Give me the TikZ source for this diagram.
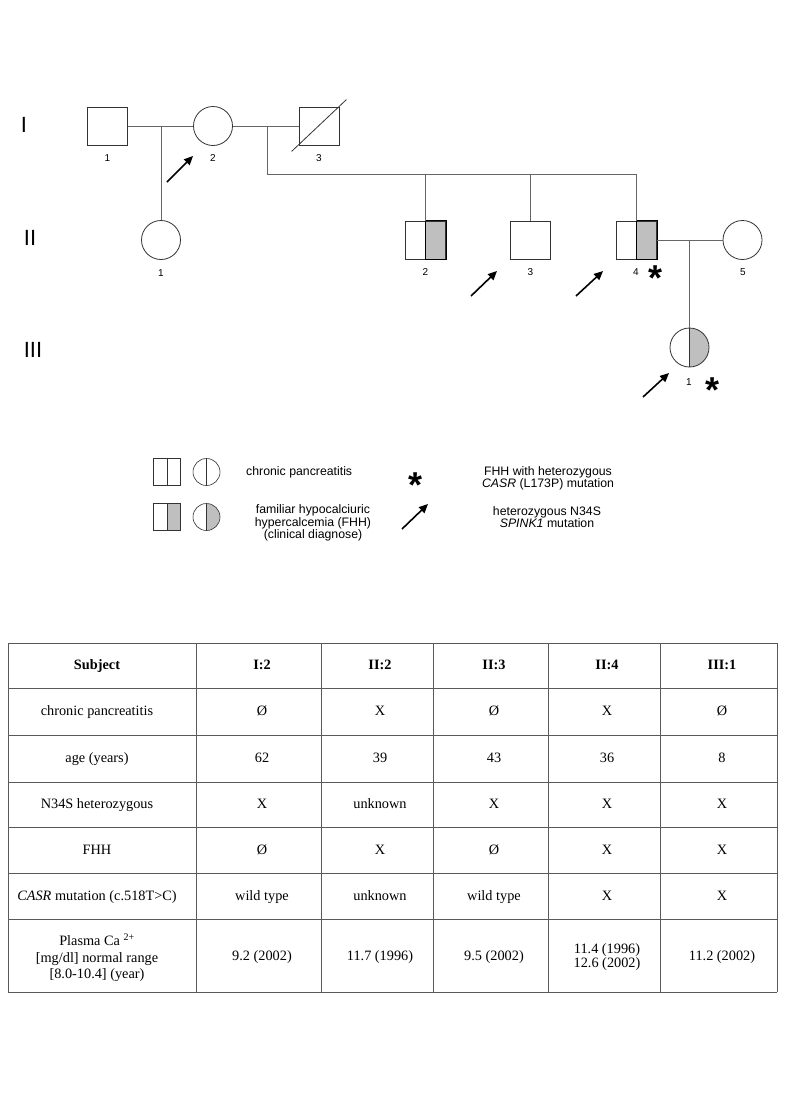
\documentclass[tikz,border=0pt]{standalone}
\usepackage{fontspec}
\setmainfont{Liberation Serif}
\newfontfamily\hv{Liberation Sans}
\usetikzlibrary{arrows.meta}
\definecolor{affgray}{gray}{0.75}
\tikzset{
  male/.style={draw=black!80, thick, minimum width=40pt, minimum height=38pt, inner sep=0pt},
  female/.style={draw=black!80, thick, circle, minimum size=39pt, inner sep=0pt},
  halfshade/.style={path picture={
    \fill[affgray] (path picture bounding box.north) rectangle (path picture bounding box.south east);
    \draw[black!80, thick] (path picture bounding box.north) -- (path picture bounding box.south);}},
  halfline/.style={path picture={
    \draw[black!80] (path picture bounding box.north) -- (path picture bounding box.south);}},
  small/.style={minimum width=28pt, minimum height=26pt, minimum size=27pt, semithick},
  num/.style={font=\hv\fontsize{10}{12}\selectfont, inner sep=0pt},
  gen/.style={font=\hv\fontsize{22}{24}\selectfont, inner sep=0pt},
  star/.style={font=\hv\bfseries\fontsize{36}{36}\selectfont, inner sep=0pt},
  link/.style={black!60, line width=0.8pt},
  carrier/.style={-{Triangle[length=9pt,width=8pt]}, line width=1.6pt},
  leg/.style={font=\hv\fontsize{12.3}{12.3}\selectfont, align=center, inner sep=0pt},
  grid/.style={black!65, line width=1pt},
  cell/.style={font=\fontsize{14.3}{16.5}\selectfont, align=center, inner sep=0pt},
  one/.style={cell, text height=9.5pt, text depth=3pt},
}
\begin{document}
\begin{tikzpicture}[x=1pt, y=-1pt]
  \useasboundingbox (0,0) rectangle (785,1111);

  % generations
  \node[gen] (gI) at (24,125) {I};
  \node[gen] (gII) at (30,238) {II};
  \node[gen] (gIII) at (33,350) {III};

  % generation I
  \node[male] (I1) at (107.5,126) {};
  \node[female] (I2) at (213,126) {};
  \node[male] (I3) at (319,126) {};
  \draw[black!80, thick] ([shift={(-7,6)}]I3.south west) -- ([shift={(7,-7)}]I3.north east);

  % generation II
  \node[female] (II1) at (161,240) {};
  \node[male, halfshade] (II2) at (425.5,240) {};
  \node[male] (II3) at (530.5,240) {};
  \node[male, halfshade] (II4) at (636.5,240) {};
  \node[female] (II5) at (742.5,240) {};
  \draw[black, thick] (II2.north) rectangle (II2.south east);
  \draw[black, thick] (II4.north) rectangle (II4.south east);

  % generation III
  \node[female, halfshade] (III1) at (689.5,347.5) {};

  % numbers
  \node[num] (n-I1) at (107.5,158) {1};
  \node[num] (n-I2) at (213,158) {2};
  \node[num] (n-I3) at (319,158) {3};
  \node[num] (n-II1) at (161,273) {1};
  \node[num] (n-II2) at (425.5,272) {2};
  \node[num] (n-II3) at (530.5,272) {3};
  \node[num] (n-II4) at (636,272) {4};
  \node[num] (n-II5) at (743,272) {5};
  \node[num] (n-III1) at (689,382) {1};

  % lines of descent
  \coordinate (m1) at (161,126);
  \coordinate (m2) at (267,126);
  \coordinate (sib) at (267,174);
  \coordinate (m3) at (689.5,240);
  \draw[link] (I1) -- (I2);
  \draw[link] (I2) -- (I3);
  \draw[link] (m1) -- (II1);
  \draw[link] (m2) -- (sib) -| (II4.north);
  \draw[link] (II2.north) -- (II2.north |- sib);
  \draw[link] (II3.north) -- (II3.north |- sib);
  \draw[link] (II4) -- (II5);
  \draw[link] (m3) -- (III1);

  % N34S carriers
  \draw[carrier] (167,182) -- (193,156);
  \draw[carrier] (471,296) -- (497,271);
  \draw[carrier] (576,296) -- (603,271);
  \draw[carrier] (643,397) -- (669,373);

  % CASR mutation
  \node[star] (s-II4) at (655,278) {*};
  \node[star] (s-III1) at (712,390) {*};

  % legend
  \node[male, small, halfline] (Lm1) at (167,472) {};
  \node[female, small, halfline] (Lf1) at (206.5,472) {};
  \node[male, small, halfshade] (Lm2) at (167,517) {};
  \node[female, small, halfshade] (Lf2) at (206.5,517) {};
  \node[leg, anchor=west] (t-cp) at (246,472) {chronic pancreatitis};
  \node[leg] (t-fhh) at (313,523) {familiar hypocalciuric\\hypercalcemia (FHH)\\(clinical diagnose)};
  \node[star] (s-leg) at (415,485) {*};
  \draw[carrier] (402,529) -- (428,504);
  \node[leg] (t-casr) at (548,478) {FHH with heterozygous\\\textit{CASR} (L173P) mutation};
  \node[leg] (t-spink) at (547,517) {heterozygous N34S\\\textit{SPINK1} mutation};

  % table
  \foreach \x in {8,196,321,433,548,660,777}
    \draw[grid] (\x,643) -- (\x,992);
  \foreach \y in {643,688,735,782,827,873,919,992}
    \draw[grid] (8,\y) -- (777,\y);

  \foreach \x/\t [count=\c] in {97/{\textbf{Subject}}, 262/{\textbf{I:2}}, 380/{\textbf{II:2}},
    494/{\textbf{II:3}}, 607/{\textbf{II:4}}, 722/{\textbf{III:1}}}
    \node[one] (r1-\c) at (\x,666) {\t};
  \foreach \x/\t [count=\c] in {97/chronic pancreatitis, 262/Ø, 380/X, 494/Ø, 607/X, 722/Ø}
    \node[one] (r2-\c) at (\x,712) {\t};
  \foreach \x/\t [count=\c] in {97/age (years), 262/62, 380/39, 494/43, 607/36, 722/8}
    \node[one] (r3-\c) at (\x,759) {\t};
  \foreach \x/\t [count=\c] in {97/N34S heterozygous, 262/X, 380/unknown, 494/X, 607/X, 722/X}
    \node[one] (r4-\c) at (\x,805) {\t};
  \foreach \x/\t [count=\c] in {97/FHH, 262/Ø, 380/X, 494/Ø, 607/X, 722/X}
    \node[one] (r5-\c) at (\x,851) {\t};
  \foreach \x/\t [count=\c] in {97/{\textit{CASR} mutation (c.518T>C)}, 262/wild type, 380/unknown,
    494/wild type, 607/X, 722/X}
    \node[one] (r6-\c) at (\x,897) {\t};
  \foreach \x/\t [count=\c] in {262/9.2 (2002), 380/11.7 (1996), 494/9.5 (2002), 722/11.2 (2002)}
    \node[one] (r7-\c) at (\x,957) {\t};
  \node[cell] (r7-sub) at (97,958) {Plasma Ca \textsuperscript{2+}\\{}[mg/dl] normal range\\{}[8.0-10.4] (year)};
  \node[cell, font=\fontsize{14.3}{14}\selectfont] (r7-II4) at (607,957) {11.4 (1996)\\12.6 (2002)};
\end{tikzpicture}
\end{document}
